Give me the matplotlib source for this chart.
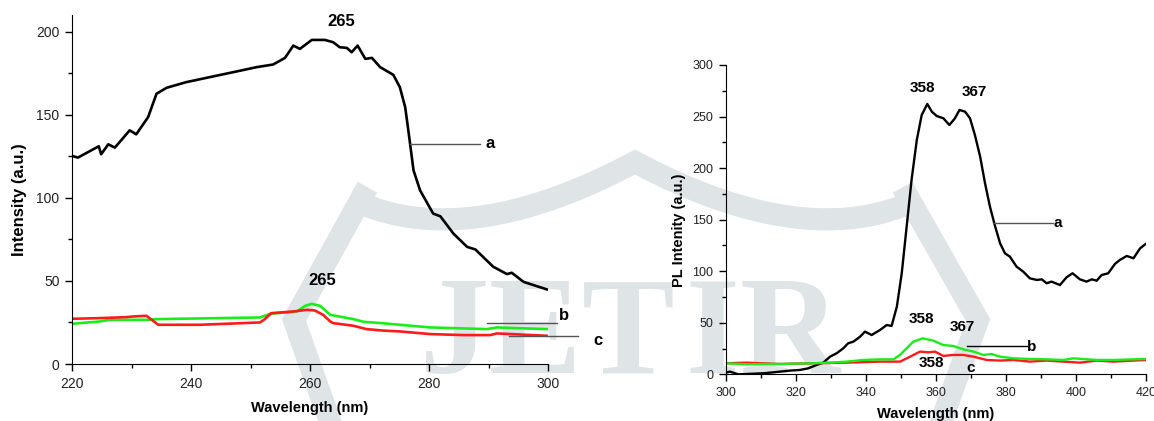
import numpy as np
import matplotlib.pyplot as plt
from matplotlib.ticker import MultipleLocator

plt.rcParams["font.family"] = ["Liberation Sans", "DejaVu Sans"]

# --- absorption spectra (left) ---
abs_a_x = [220.2, 221.0, 224.5, 224.9, 226.1, 227.2, 229.7, 230.8, 232.8, 234.2, 235.9, 239.2,
           247.1, 251.0, 253.8, 255.8, 257.2, 258.3, 260.3, 262.5, 263.9, 265.0, 266.2, 267.0,
           268.0, 269.3, 270.4, 271.8, 274.0, 275.1, 276.0, 276.6, 277.4, 278.5, 280.7, 281.9,
           284.1, 286.4, 287.8, 290.8, 293.1, 293.9, 295.9, 299.8]
abs_a_y = [125.0, 124.2, 131.0, 126.2, 132.2, 130.2, 140.6, 138.2, 148.6, 162.6, 166.2, 169.6,
           175.6, 178.6, 180.2, 184.2, 191.6, 189.6, 195.0, 195.0, 193.6, 190.6, 190.2, 187.6,
           191.6, 183.6, 184.2, 178.6, 174.0, 166.6, 154.5, 138.6, 116.5, 104.5, 90.5, 88.9,
           78.5, 70.5, 68.9, 58.5, 54.1, 54.9, 49.4, 44.9]

abs_b_x = [220.0, 224.7, 226.3, 233.0, 234.2, 251.6, 253.3, 257.8, 259.2, 260.3, 261.7, 263.4,
           267.3, 269.0, 272.3, 275.1, 280.2, 285.8, 289.7, 291.4, 299.8]
abs_b_y = [24.2, 25.6, 26.6, 26.6, 27.0, 28.0, 30.2, 31.6, 35.0, 36.2, 35.0, 29.6,
           27.0, 25.4, 24.5, 23.6, 22.0, 21.4, 21.0, 22.0, 21.0]

abs_c_x = [220.0, 224.7, 229.1, 230.3, 232.5, 233.4, 234.5, 241.5, 251.6, 252.4, 253.5, 257.2,
           259.5, 260.8, 262.2, 263.4, 263.9, 267.3, 269.5, 272.3, 275.1, 280.2, 285.8, 290.3,
           291.4, 299.8]
abs_c_y = [27.2, 27.6, 28.2, 28.6, 29.0, 26.6, 23.6, 23.6, 25.0, 27.0, 30.6, 31.6,
           32.6, 32.2, 29.6, 25.6, 24.6, 23.0, 21.0, 20.1, 19.6, 18.0, 17.4, 17.4,
           18.4, 17.0]

# --- PL spectra (right) ---
pl_a_x = [300.0, 301.2, 303.6, 306.0, 310.8, 313.6, 315.5, 318.4, 321.2, 323.6, 326.0, 327.9,
          329.8, 331.7, 333.6, 335.0, 336.5, 338.4, 339.8, 341.7, 344.1, 346.0, 347.4, 348.9,
          350.3, 351.7, 353.1, 354.6, 356.0, 357.6, 358.9, 360.3, 362.2, 363.9, 365.5, 366.8,
          368.4, 369.8, 371.2, 372.7, 374.1, 375.5, 377.0, 378.4, 379.8, 381.2, 383.1, 385.0,
          386.9, 388.9, 390.3, 391.7, 393.1, 395.5, 397.4, 399.1, 401.2, 403.1, 404.6, 406.0,
          407.4, 409.3, 411.2, 412.6, 414.6, 416.5, 418.4, 420.0]
pl_a_y = [1.6, 2.6, 0.0, 0.3, 1.0, 1.9, 2.6, 3.6, 4.2, 5.8, 9.1, 11.3,
          17.1, 20.4, 25.2, 30.1, 31.7, 36.5, 41.4, 38.1, 43.0, 47.8, 46.9, 65.6,
          98.0, 143.2, 188.5, 227.3, 251.5, 262.2, 254.7, 250.5, 248.3, 241.8, 248.3, 256.4,
          254.7, 248.3, 232.1, 211.1, 185.2, 162.6, 143.2, 127.0, 117.3, 114.1, 104.4, 99.6,
          93.1, 91.5, 92.1, 88.3, 89.9, 86.6, 94.1, 98.0, 92.1, 89.9, 92.1, 90.8,
          96.3, 98.0, 107.0, 110.9, 114.8, 112.5, 122.2, 126.4]

pl_b_x = [300.0, 306.0, 310.8, 315.5, 325.0, 329.8, 334.6, 339.3, 344.1, 347.9, 349.8, 351.7,
          353.6, 356.3, 359.3, 362.2, 365.0, 367.9, 370.8, 373.6, 376.0, 378.4, 382.2, 386.9,
          391.7, 396.5, 399.3, 406.0, 410.8, 420.0]
pl_b_y = [10.7, 9.7, 10.0, 10.0, 10.7, 11.3, 12.3, 13.9, 14.5, 14.5, 18.8, 25.2,
          31.7, 34.9, 32.7, 28.4, 27.5, 24.2, 22.0, 18.8, 19.7, 17.1, 15.5, 14.9,
          14.5, 13.9, 15.5, 13.9, 13.9, 14.9]

pl_c_x = [300.0, 306.0, 315.5, 325.0, 334.6, 344.1, 349.8, 352.7, 355.5, 357.9, 359.8, 362.2,
          365.0, 367.9, 370.8, 374.6, 378.4, 382.2, 386.9, 391.7, 396.5, 401.2, 406.0, 410.8,
          420.0]
pl_c_y = [10.7, 11.3, 10.0, 10.7, 11.3, 12.3, 12.3, 17.1, 22.0, 21.3, 22.0, 17.8,
          18.8, 18.8, 17.1, 13.9, 13.3, 13.9, 12.3, 13.3, 12.3, 11.3, 13.3, 12.3,
          13.9]

BLACK, GREEN, RED, GUIDE = "#000000", "#1aee1a", "#ff1a1a", "#555555"
WM = "#dfe4e7"

fig = plt.figure(figsize=(11.54, 4.21), dpi=100)
fig.patch.set_facecolor("white")

# background journal mark, in pixel coordinates
bg = fig.add_axes([0, 0, 1, 1], zorder=-5)
bg.set_xlim(0, 1154); bg.set_ylim(421, 0); bg.axis("off")
t = np.linspace(0, 1, 40)
def qbez(p0, p1, p2):
    return ((1-t)**2*p0[0] + 2*(1-t)*t*p1[0] + t**2*p2[0],
            (1-t)**2*p0[1] + 2*(1-t)*t*p1[1] + t**2*p2[1])
lx, ly = qbez((360, 203), (470, 250), (635, 162))
rx, ry = qbez((635, 162), (800, 250), (910, 203))
bg.plot(np.r_[lx, rx], np.r_[ly, ry], color=WM, lw=16, solid_capstyle="butt", solid_joinstyle="miter")
bg.plot([362, 294, 333], [197, 320, 430], color=WM, lw=16, solid_joinstyle="miter")
bg.plot([908, 978, 938], [197, 320, 430], color=WM, lw=16, solid_joinstyle="miter")
for ch, cx in zip("JETIR", [455, 535, 628, 712, 790]):
    bg.text(cx, 373, ch, fontsize=100, fontweight="bold",
            family=["Liberation Serif", "DejaVu Serif"],
            color=WM, ha="center", va="baseline")

def style(ax, fs):
    for s in ("top", "right"):
        ax.spines[s].set_visible(False)
    ax.set_facecolor("none")
    ax.tick_params(which="major", direction="out", length=5, width=1, labelsize=fs, pad=4)
    ax.tick_params(which="minor", direction="out", length=3, width=1)
    ax.tick_params(labelcolor="#222222")

# left panel
ax1 = fig.add_axes([72/1154, 1-364/421, 476/1154, 349/421])
ax1.plot(abs_a_x, abs_a_y, color=BLACK, lw=1.9, solid_joinstyle="round")
ax1.plot(abs_b_x, abs_b_y, color=GREEN, lw=1.9, solid_joinstyle="round")
ax1.plot(abs_c_x, abs_c_y, color=RED, lw=1.9, solid_joinstyle="round")
ax1.set_xlim(220, 300); ax1.set_ylim(0, 210)
ax1.xaxis.set_major_locator(MultipleLocator(20)); ax1.xaxis.set_minor_locator(MultipleLocator(10))
ax1.yaxis.set_major_locator(MultipleLocator(50)); ax1.yaxis.set_minor_locator(MultipleLocator(25))
style(ax1, 10)
ax1.set_xlabel("Wavelength (nm)", fontsize=10.5, fontweight="bold")
ax1.set_ylabel("Intensity (a.u.)", fontsize=12, fontweight="bold")
ax1.xaxis.set_label_coords(0.5, -0.105)
ax1.yaxis.set_label_coords(-0.095, 0.47)
bold = dict(fontweight="bold", ha="center", va="center", clip_on=False)
ax1.text(265.3, 206, "265", fontsize=12, **bold)
ax1.text(262.0, 50, "265", fontsize=12, **bold)
ax1.plot([276.8, 288.6], [132.5, 132.5], color=GUIDE, lw=1)
ax1.text(289.5, 132.5, "a", fontsize=12, fontweight="bold", ha="left", va="center")
ax1.plot([289.7, 301.5], [24.4, 24.4], color=GUIDE, lw=1, clip_on=False)
ax1.text(301.8, 29.4, "b", fontsize=12, fontweight="bold", ha="left", va="center")
ax1.plot([293.4, 305.0], [17.0, 17.0], color=GUIDE, lw=1, clip_on=False)
ax1.text(307.7, 14.2, "c", fontsize=12, fontweight="bold", ha="left", va="center")

# right panel
ax2 = fig.add_axes([725.7/1154, 1-374.3/421, 420/1154, 309.3/421])
ax2.plot(pl_a_x, pl_a_y, color=BLACK, lw=1.7, solid_joinstyle="round")
ax2.plot(pl_c_x, pl_c_y, color=RED, lw=1.7, solid_joinstyle="round")
ax2.plot(pl_b_x, pl_b_y, color=GREEN, lw=1.7, solid_joinstyle="round")
ax2.set_xlim(300, 420); ax2.set_ylim(0, 300)
ax2.xaxis.set_major_locator(MultipleLocator(20)); ax2.xaxis.set_minor_locator(MultipleLocator(10))
ax2.yaxis.set_major_locator(MultipleLocator(50)); ax2.yaxis.set_minor_locator(MultipleLocator(25))
style(ax2, 9)
ax2.set_xlabel("Wavelength (nm)", fontsize=10.5, fontweight="bold")
ax2.set_ylabel("PL Intenity (a.u.)", fontsize=10.5, fontweight="bold")
ax2.xaxis.set_label_coords(0.5, -0.105)
ax2.yaxis.set_label_coords(-0.094, 0.467)
ax2.text(356.3, 278, "358", fontsize=11, **bold)
ax2.text(371.0, 274, "367", fontsize=11, **bold)
ax2.plot([376.5, 393.6], [147, 147], color=GUIDE, lw=1)
ax2.text(393.8, 147, "a", fontsize=11, fontweight="bold", ha="left", va="center")
ax2.text(356.0, 53.3, "358", fontsize=11, **bold)
ax2.text(367.7, 45.6, "367", fontsize=11, **bold)
ax2.plot([368.9, 386.0], [27.5, 27.5], color=BLACK, lw=1)
ax2.text(386.2, 26.8, "b", fontsize=11, fontweight="bold", ha="left", va="center")
ax2.text(358.7, 10.7, "358", fontsize=11, **bold)
ax2.text(370.1, 5.8, "c", fontsize=11, **bold)

fig.savefig("out.png", dpi=100, facecolor="white")
